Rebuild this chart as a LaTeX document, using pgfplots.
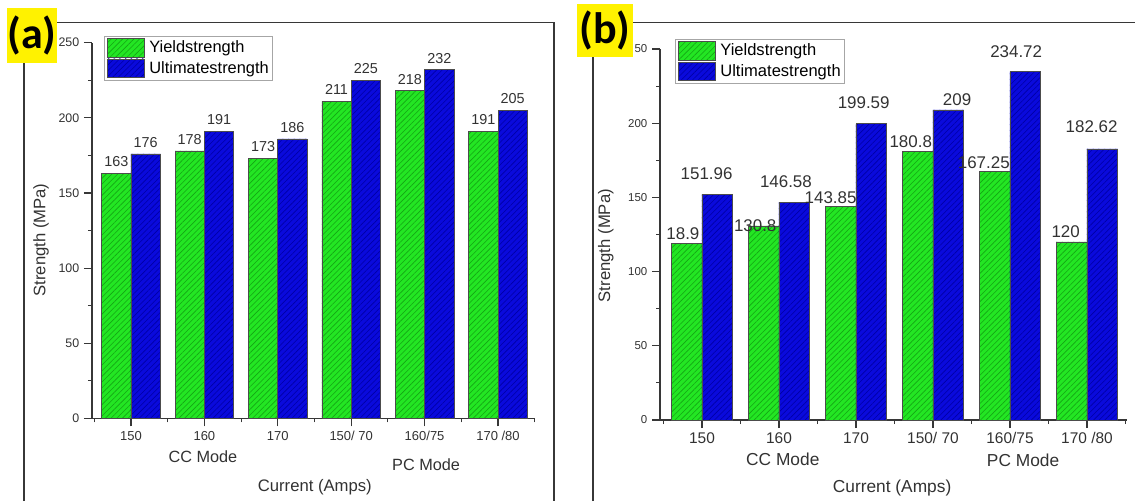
\documentclass[border=0pt]{standalone}
\usepackage{fontspec}
\setmainfont{Liberation Sans}
\newfontfamily\carl{Carlito}
\usepackage{pgfplots}
\pgfplotsset{compat=1.18}
\usetikzlibrary{patterns.meta}
\definecolor{gfill}{RGB}{35,230,35}
\definecolor{ghatch}{RGB}{20,165,20}
\definecolor{bfill}{RGB}{10,10,220}
\definecolor{bhatch}{RGB}{0,0,165}
\definecolor{axc}{RGB}{55,55,55}
\definecolor{txt}{RGB}{50,50,50}
\definecolor{yel}{RGB}{255,242,0}
\pgfplotsset{
  mystyle/.style={
    scale only axis, anchor=south west,
    axis lines*=left,
    axis line style={axc, line width=1pt},
    every tick/.style={axc, line width=0.8pt},
    tick align=outside,
    major tick length=6pt, minor tick length=3pt,
    ymin=0, ymax=250,
    ytick={0,50,...,250}, minor ytick={25,75,...,225},
    xtick={0,...,5}, minor xtick={-0.5,0.5,...,5.5},
    xticklabels={150,160,170,150/ 70,160/75,170 /80},
    /pgf/number format/assume math mode=true,
    ybar, bar width=0.4,
    clip=false,
    ticklabel style={color=txt},
    label style={color=txt},
    legend cell align=left,
    legend image code/.code={\draw[##1] (0pt,-7pt) rectangle (27.75pt,7pt); \path (30.5pt,0pt);},
    xlabel={Current (Amps)},
    ylabel={Strength (MPa)},
  },
  gbar/.style={fill=gfill, draw=black!70, line width=0.5pt,
    postaction={pattern={Lines[angle=45,distance=3pt,line width=0.45pt]}, pattern color=ghatch},
    bar shift=0pt},
  bbar/.style={fill=bfill, draw=black!70, line width=0.5pt,
    postaction={pattern={Lines[angle=45,distance=3pt,line width=0.45pt]}, pattern color=bhatch},
    bar shift=0pt},
  mylegend/.style={anchor=north west, draw=gray!70, line width=0.5pt,
    inner xsep=2pt, inner ysep=1.5pt, row sep=0.8pt,
    nodes={inner sep=0.8pt}},
}
\begin{document}
\begin{tikzpicture}
\useasboundingbox (0,0) rectangle (851.25pt,375.75pt);
% outer frames
\draw[line width=1.4pt, axc] (18pt,0) -- (18pt,358.9pt) -- (415.5pt,358.9pt) -- (415.5pt,0);
\draw[line width=1.4pt, axc] (444.75pt,0) -- (444.75pt,358.9pt) -- (851.25pt,358.9pt);

% panel (a)
\begin{axis}[mystyle,
  at={(69pt,61.9pt)}, width=332.25pt, height=281.85pt,
  xmin=-0.531, xmax=5.504,
  xticklabel style={font=\fontsize{9.75}{11}\selectfont},
  yticklabel style={font=\fontsize{9.3}{10}\selectfont},
  xlabel style={font=\fontsize{12.5}{14}\selectfont, at={(axis description cs:0.503,-0.182)}, anchor=center},
  ylabel style={font=\fontsize{12.5}{14}\selectfont, at={(axis description cs:-0.115,0.475)}, anchor=center},
  legend style={mylegend, at={(axis description cs:0.027,1.018)}, font=\fontsize{12.3}{14}\selectfont},
  nodes near coords,
  every node near coord/.append style={font=\fontsize{10.8}{12}\selectfont, color=txt, inner sep=0pt, yshift=4.5pt},
]
\addplot[gbar] coordinates {(-0.2,163) (0.8,178) (1.8,173) (2.8,211) (3.8,218) (4.8,191)};
\addplot[bbar] coordinates {(0.2,176) (1.2,191) (2.2,186) (3.2,225) (4.2,232) (5.2,205)};
\legend{Yieldstrength,Ultimatestrength}
\node[font=\fontsize{12.2}{14}\selectfont, color=txt] at (axis cs:0.98,-25.6) {CC Mode};
\node[font=\fontsize{12.2}{14}\selectfont, color=txt] at (axis cs:4.02,-30.9) {PC Mode};
\end{axis}

% panel (b)
\begin{axis}[mystyle,
  at={(495pt,60.75pt)}, width=350.25pt, height=278.25pt,
  xmin=-0.545, xmax=5.52,
  yticklabels={0,50,100,150,200,50},
  xticklabel style={font=\fontsize{11.6}{13}\selectfont},
  yticklabel style={font=\fontsize{8.6}{10}\selectfont},
  xlabel style={font=\fontsize{13}{15}\selectfont, at={(axis description cs:0.497,-0.183)}, anchor=center},
  ylabel style={font=\fontsize{12.5}{14}\selectfont, at={(axis description cs:-0.116,0.47)}, anchor=center},
  legend style={mylegend, at={(axis description cs:0.032,1.027)}, font=\fontsize{12.4}{14}\selectfont},
]
\addplot[gbar] coordinates {(-0.2,118.9) (0.8,130.8) (1.8,143.85) (2.8,180.8) (3.8,167.25) (4.8,120)};
\addplot[bbar] coordinates {(0.2,151.96) (1.2,146.58) (2.2,199.59) (3.2,209) (4.2,234.72) (5.2,182.62)};
\legend{Yieldstrength,Ultimatestrength}
\begin{scope}[every node/.style={font=\fontsize{12.7}{14}\selectfont, color=txt, anchor=base east, inner sep=0pt}]
\node at (axis cs:-0.03,121.3) {18.9};
\node at (axis cs:0.40,162.4) {151.96};
\node at (axis cs:0.97,126.7) {130.8};
\node at (axis cs:1.43,157.0) {146.58};
\node at (axis cs:2.01,146.2) {143.85};
\node at (axis cs:2.44,210.2) {199.59};
\node at (axis cs:2.99,183.3) {180.8};
\node at (axis cs:3.50,212.0) {209};
\node at (axis cs:4.00,169.8) {167.25};
\node at (axis cs:4.42,244.0) {234.72};
\node at (axis cs:4.91,123.3) {120};
\node at (axis cs:5.40,193.4) {182.62};
\end{scope}
\node[font=\fontsize{13}{15}\selectfont, color=txt] at (axis cs:1.05,-26.3) {CC Mode};
\node[font=\fontsize{13}{15}\selectfont, color=txt] at (axis cs:4.17,-27.0) {PC Mode};
\end{axis}

% panel letters
\fill[yel] (5.25pt,328.5pt) rectangle (42.75pt,369.75pt);
\node[font=\carl\bfseries\fontsize{33}{36}\selectfont, inner sep=0pt] at (24pt,349.1pt) {(a)};
\fill[yel] (432.75pt,333pt) rectangle (474.75pt,372.75pt);
\node[font=\carl\bfseries\fontsize{33}{36}\selectfont, inner sep=0pt] at (453.75pt,352.9pt) {(b)};
\end{tikzpicture}
\end{document}
